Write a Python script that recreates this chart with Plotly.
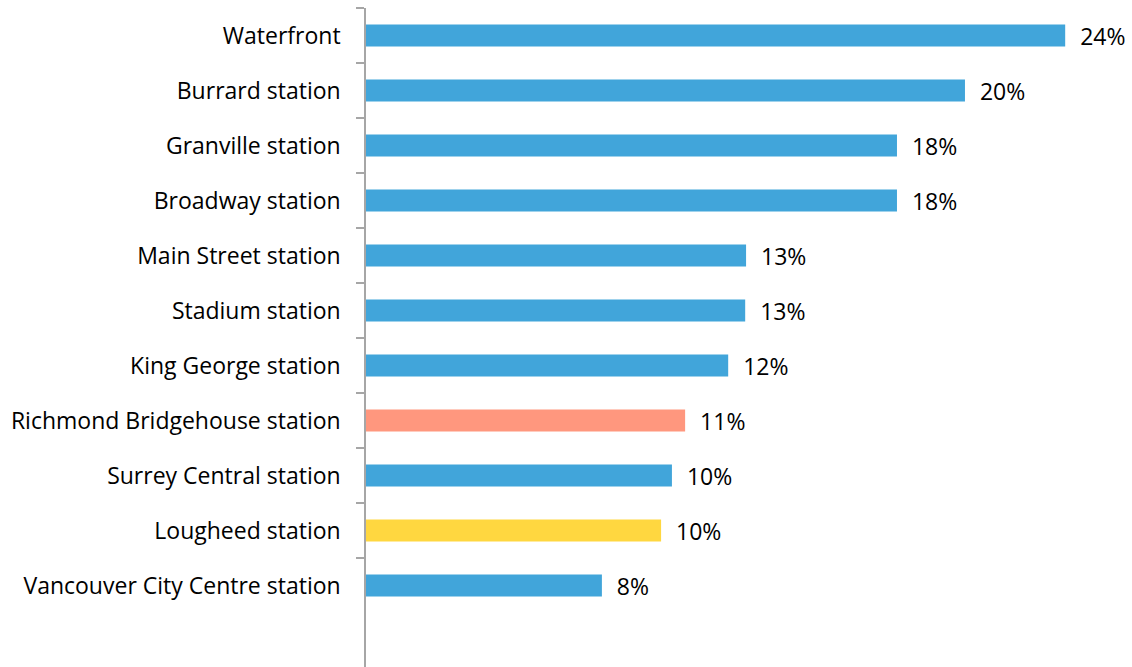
import plotly.graph_objects as go

# Share of trips by station (%), top to bottom
stations = [
    "Waterfront",
    "Burrard station",
    "Granville station",
    "Broadway station",
    "Main Street station",
    "Stadium station",
    "King George station",
    "Richmond Bridgehouse station",
    "Surrey Central station",
    "Lougheed station",
    "Vancouver City Centre station",
]
shares = [23.86, 20.44, 18.12, 18.12, 12.97, 12.94, 12.36, 10.89, 10.44, 10.07, 8.05]

BLUE = "#41A5DA"
SALMON = "#FF977E"
YELLOW = "#FFD740"
bar_colors = [BLUE] * 7 + [SALMON, BLUE, YELLOW, BLUE]

font_family = "'Open Sans', sans-serif"
font_size = 23

fig = go.Figure(
    go.Bar(
        x=shares,
        y=stations,
        orientation="h",
        width=0.4,
        marker=dict(color=bar_colors, line=dict(width=0)),
        texttemplate="\u00a0\u00a0%{x:.0f}%",
        textposition="outside",
        constraintext="none",
        textfont=dict(family=font_family, size=font_size, color="#000000"),
        cliponaxis=False,
        hoverinfo="skip",
    )
)

fig.update_layout(
    width=1132,
    height=667,
    margin=dict(l=366, r=0, t=8, b=0),
    paper_bgcolor="white",
    plot_bgcolor="white",
    showlegend=False,
    font=dict(family=font_family, size=font_size, color="#000000"),
    xaxis=dict(
        range=[0, 26.14],
        visible=False,
        fixedrange=True,
    ),
    yaxis=dict(
        type="category",
        range=[11.48, -0.5],
        showline=True,
        linecolor="#A6A6A6",
        linewidth=1.5,
        ticks="outside",
        tickson="boundaries",
        ticklen=8,
        tickcolor="#A6A6A6",
        tickwidth=1.5,
        ticklabelstandoff=19,
        showgrid=False,
        zeroline=False,
        tickfont=dict(family=font_family, size=font_size, color="#000000"),
    ),
)

fig.write_html("out.html")
